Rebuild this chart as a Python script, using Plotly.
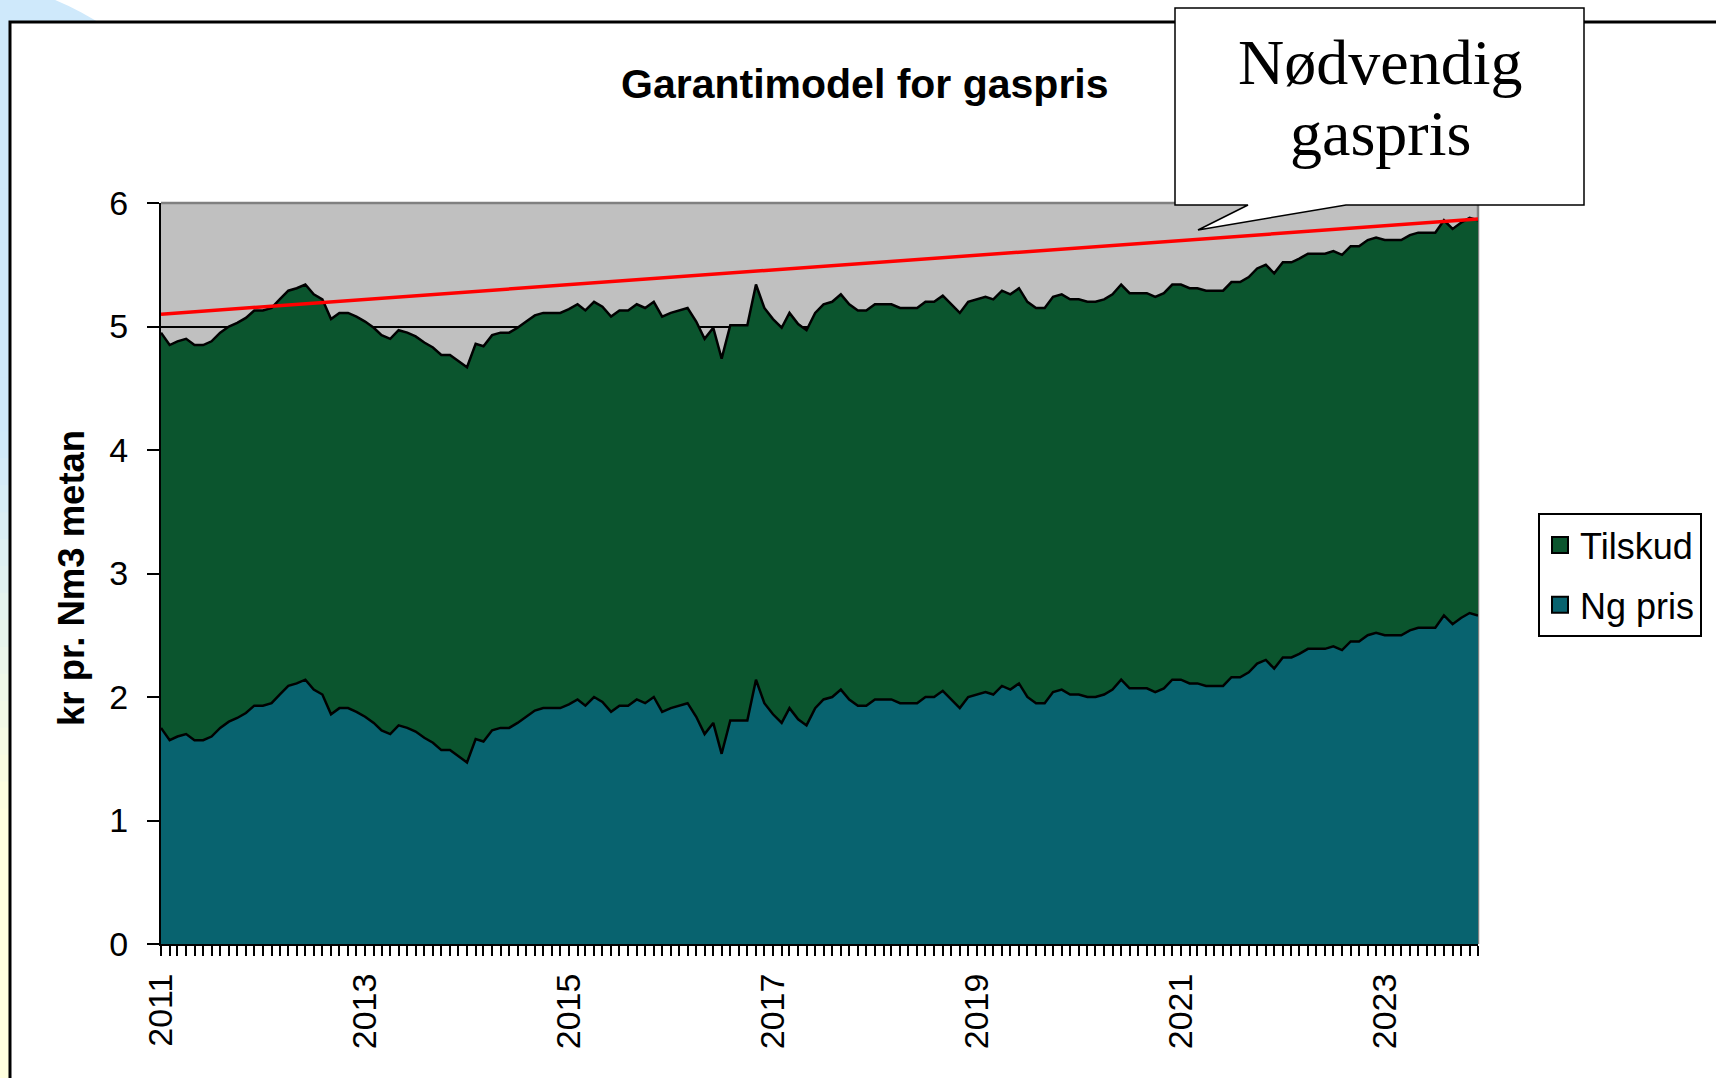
import plotly.graph_objects as go
import pandas as pd

# monthly data, jan 2011 - dec 2023
months = pd.date_range("2011-01-01", "2023-12-01", freq="MS")

ng_pris = [
    1.75, 1.65, 1.68, 1.70, 1.65, 1.65, 1.68, 1.75, 1.80, 1.83, 1.87, 1.93,  # 2011
    1.93, 1.95, 2.02, 2.09, 2.11, 2.14, 2.06, 2.02, 1.86, 1.91, 1.91, 1.88,  # 2012
    1.84, 1.79, 1.73, 1.70, 1.77, 1.75, 1.72, 1.67, 1.63, 1.57, 1.57, 1.52,  # 2013
    1.47, 1.66, 1.64, 1.73, 1.75, 1.75, 1.79, 1.84, 1.89, 1.91, 1.91, 1.91,  # 2014
    1.94, 1.98, 1.93, 2.00, 1.96, 1.88, 1.93, 1.93, 1.98, 1.95, 2.00, 1.88,  # 2015
    1.91, 1.93, 1.95, 1.84, 1.70, 1.79, 1.54, 1.81, 1.81, 1.81, 2.14, 1.95,  # 2016
    1.86, 1.79, 1.91, 1.82, 1.77, 1.91, 1.98, 2.00, 2.06, 1.98, 1.93, 1.93,  # 2017
    1.98, 1.98, 1.98, 1.95, 1.95, 1.95, 2.00, 2.00, 2.05, 1.98, 1.91, 2.00,  # 2018
    2.02, 2.04, 2.02, 2.09, 2.06, 2.11, 2.00, 1.95, 1.95, 2.04, 2.06, 2.02,  # 2019
    2.02, 2.00, 2.00, 2.02, 2.06, 2.14, 2.07, 2.07, 2.07, 2.04, 2.07, 2.14,  # 2020
    2.14, 2.11, 2.11, 2.09, 2.09, 2.09, 2.16, 2.16, 2.20, 2.27, 2.30, 2.23,  # 2021
    2.32, 2.32, 2.35, 2.39, 2.39, 2.39, 2.41, 2.38, 2.45, 2.45, 2.50, 2.52,  # 2022
    2.50, 2.50, 2.50, 2.54, 2.56, 2.56, 2.56, 2.66, 2.59, 2.64, 2.68, 2.66,  # 2023
]

# fixed subsidy on top of the gas price
tilskud_kr = 3.2
tilskud = [tilskud_kr] * len(months)

# required gas price, straight line
noedvendig_x = [months[0], months[-1]]
noedvendig_y = [5.10, 5.87]

teal = "#08636F"
green = "#0B552E"
font = "Liberation Sans"

FW, FH = 1716, 1078
# plot area in pixels
L, R, T, B = 161, 1478, 203, 944
W, H = R - L, B - T


def px(x):
    return (x - L) / W


def py(y):
    return (B - y) / H


fig = go.Figure()

fig.add_trace(go.Scatter(x=months, y=ng_pris, stackgroup="one", mode="lines",
                         line=dict(color="black", width=2.5), fillcolor=teal,
                         name="Ng pris", showlegend=False))
fig.add_trace(go.Scatter(x=months, y=tilskud, stackgroup="one", mode="lines",
                         line=dict(color="black", width=2.5), fillcolor=green,
                         name="Tilskud", showlegend=False))
fig.add_trace(go.Scatter(x=noedvendig_x, y=noedvendig_y, mode="lines",
                         line=dict(color="#FF0000", width=3.5),
                         name="Nødvendig gaspris", showlegend=False))

# legend entries as little squares
for name, col in [("Tilskud", green), ("Ng pris", teal)]:
    fig.add_trace(go.Scatter(x=[None], y=[None], mode="markers", name=name,
                             legendgroup=name,
                             marker=dict(symbol="square", size=20, color=col,
                                         line=dict(color="black", width=2))))

shapes = []
# light blue background blob in the top-left corner
shapes.append(dict(type="circle", xref="paper", yref="paper", layer="below",
                   x0=px(-360), x1=px(240), y0=py(577), y1=py(-23),
                   fillcolor="#CFE9FB", line=dict(width=0)))
# left strip, blue fading into yellow
n_bands = 40
for k in range(n_bands):
    y0 = FH * k / n_bands
    y1 = FH * (k + 1) / n_bands
    t = min(max((y0 - 420) / 380, 0), 1)
    c0, c1 = (207, 233, 251), (255, 255, 222)
    col = "rgb(%d,%d,%d)" % tuple(round(a + (b - a) * t) for a, b in zip(c0, c1))
    shapes.append(dict(type="rect", xref="paper", yref="paper", layer="below",
                       x0=px(-2), x1=px(10), y0=py(y1 + 1), y1=py(y0),
                       fillcolor=col, line=dict(width=0)))
# white slide frame interior
shapes.append(dict(type="rect", xref="paper", yref="paper", layer="below",
                   x0=px(10), x1=px(1730), y0=py(1090), y1=py(22),
                   fillcolor="white", line=dict(width=0)))
# grey plot area
shapes.append(dict(type="rect", xref="paper", yref="paper", layer="below",
                   x0=0, x1=1, y0=0, y1=1, fillcolor="#C0C0C0", line=dict(width=0)))
shapes.append(dict(type="line", xref="paper", yref="paper", layer="below",
                   x0=1, x1=1, y0=0, y1=1, line=dict(color="#808080", width=2.5)))
shapes.append(dict(type="line", xref="paper", yref="paper", layer="above",
                   x0=0, x1=1, y0=1, y1=1, line=dict(color="#808080", width=2.5)))
# frame lines
shapes.append(dict(type="path", xref="paper", yref="paper", layer="above",
                   path="M %f,%f L %f,%f L %f,%f" % (px(10), py(1090), px(10), py(22), px(1730), py(22)),
                   line=dict(color="black", width=3)))
# callout box with pointer
pts = [(1175, 8), (1584, 8), (1584, 205), (1346, 205), (1198, 230), (1248, 205), (1175, 205)]
path = "M " + " L ".join("%f,%f" % (px(a), py(b)) for a, b in pts) + " Z"
shapes.append(dict(type="path", xref="paper", yref="paper", layer="above", path=path,
                   fillcolor="white", line=dict(color="black", width=1.5)))

annotations = [
    dict(text="<b>Garantimodel for gaspris</b>", x=px(865), y=py(84), xref="paper", yref="paper",
         showarrow=False, xanchor="center", yanchor="middle",
         font=dict(family=font, size=41, color="black")),
    dict(text="<b>kr pr. Nm3 metan</b>", x=px(71), y=py(578), xref="paper", yref="paper",
         showarrow=False, textangle=-90, xanchor="center", yanchor="middle",
         font=dict(family=font, size=36.5, color="black")),
    dict(text="Nødvendig", x=px(1380), y=py(62), xref="paper", yref="paper",
         showarrow=False, xanchor="center", yanchor="middle",
         font=dict(family="Liberation Serif", size=64, color="black")),
    dict(text="gaspris", x=px(1380), y=py(133), xref="paper", yref="paper",
         showarrow=False, xanchor="center", yanchor="middle",
         font=dict(family="Liberation Serif", size=64, color="black")),
]

fig.update_layout(
    width=FW, height=FH,
    margin=dict(l=L, r=FW - R, t=T, b=FH - B),
    paper_bgcolor="white", plot_bgcolor="rgba(0,0,0,0)",
    font=dict(family=font, color="black"),
    shapes=shapes, annotations=annotations,
    showlegend=True,
    legend=dict(x=px(1538), y=py(513), xanchor="left", yanchor="top",
                bgcolor="white", bordercolor="black", borderwidth=2,
                font=dict(family=font, size=36, color="black"),
                traceorder="grouped", tracegroupgap=10),
)

fig.update_xaxes(type="date", range=[months[0], months[-1]],
                 tick0="2011-01-01", dtick="M24", tickformat="%Y", tickangle=-90,
                 ticks="outside", ticklen=10, tickwidth=2, tickcolor="black",
                 ticklabelstandoff=4,
                 showline=True, linecolor="black", linewidth=2, showgrid=False,
                 tickfont=dict(family=font, size=34, color="black"),
                 minor=dict(dtick="M1", ticks="outside", ticklen=10, tickwidth=2,
                            tickcolor="black", showgrid=False))
fig.update_yaxes(range=[0, 6], tickvals=[0, 1, 2, 3, 4, 5, 6],
                 ticks="outside", ticklen=12, tickwidth=2, tickcolor="black",
                 ticklabelstandoff=12,
                 showline=True, linecolor="black", linewidth=2,
                 showgrid=True, gridcolor="black", gridwidth=1.5, zeroline=False,
                 tickfont=dict(family=font, size=34, color="black"))

# drop the default body margin so the figure sits at the page corner
fig.write_html("out.html", config={"displayModeBar": False},
               post_script="document.body.style.margin = '0';")
